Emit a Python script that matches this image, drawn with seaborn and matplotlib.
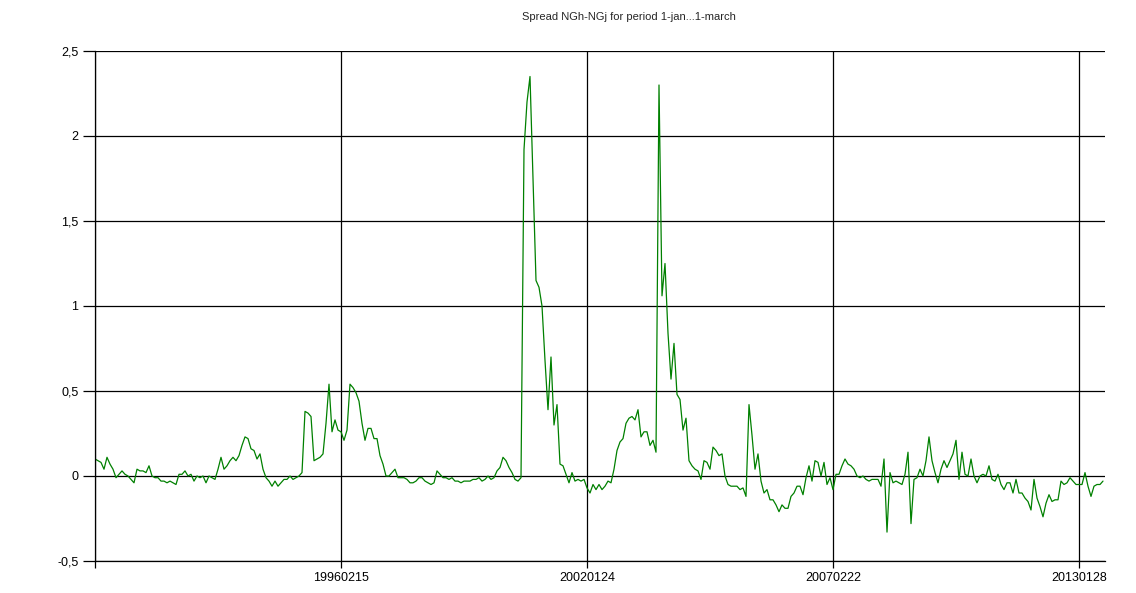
import numpy as np
import pandas as pd
import matplotlib
matplotlib.use("Agg")
import matplotlib.pyplot as plt
import seaborn as sns

# Style
sns.set_style("white")
plt.rcParams['font.family'] = ['Liberation Sans', 'DejaVu Sans']

# Data: spread values, one per trading day (Jan..Mar of each year)
spread = [
    0.10, 0.09, 0.08, 0.04, 0.11, 0.07, 0.04, -0.01, 0.01, 0.03,
    0.01, 0.00, -0.02, -0.04, 0.04, 0.03, 0.03, 0.02, 0.06, 0.00,
    -0.01, -0.01, -0.03, -0.03, -0.04, -0.03, -0.04, -0.05, 0.01, 0.01,
    0.03, 0.00, 0.01, -0.03, 0.00, -0.01, 0.00, -0.04, 0.00, -0.01,
    -0.02, 0.04, 0.11, 0.04, 0.06, 0.09, 0.11, 0.09, 0.12, 0.18,
    0.23, 0.22, 0.16, 0.15, 0.10, 0.13, 0.04, -0.01, -0.03, -0.06,
    -0.03, -0.06, -0.04, -0.02, -0.02, 0.00, -0.02, -0.01, 0.00, 0.02,
    0.38, 0.37, 0.35, 0.09, 0.10, 0.11, 0.13, 0.31, 0.54, 0.26,
    0.33, 0.27, 0.26, 0.21, 0.27, 0.54, 0.52, 0.49, 0.44, 0.31,
    0.21, 0.28, 0.28, 0.22, 0.22, 0.12, 0.07, 0.00, 0.00, 0.02,
    0.04, -0.01, -0.01, -0.01, -0.02, -0.04, -0.04, -0.03, -0.01, -0.01,
    -0.03, -0.04, -0.05, -0.04, 0.03, 0.01, -0.01, -0.01, -0.02, -0.01,
    -0.03, -0.03, -0.04, -0.03, -0.03, -0.03, -0.02, -0.02, -0.01, -0.03,
    -0.02, 0.00, -0.02, -0.01, 0.03, 0.05, 0.11, 0.09, 0.05, 0.02,
    -0.02, -0.03, -0.01, 1.92, 2.20, 2.35, 1.76, 1.15, 1.11, 1.00,
    0.68, 0.39, 0.70, 0.30, 0.42, 0.07, 0.06, 0.01, -0.04, 0.02,
    -0.03, -0.02, -0.03, -0.02, -0.07, -0.10, -0.05, -0.08, -0.05, -0.08,
    -0.06, -0.03, -0.04, 0.04, 0.15, 0.20, 0.22, 0.31, 0.34, 0.35,
    0.33, 0.39, 0.23, 0.26, 0.26, 0.18, 0.21, 0.14, 2.30, 1.06,
    1.25, 0.84, 0.57, 0.78, 0.48, 0.45, 0.27, 0.34, 0.09, 0.06,
    0.04, 0.03, -0.02, 0.09, 0.08, 0.04, 0.17, 0.15, 0.12, 0.13,
    0.00, -0.05, -0.06, -0.06, -0.06, -0.08, -0.07, -0.12, 0.42, 0.24,
    0.04, 0.13, -0.03, -0.10, -0.08, -0.14, -0.14, -0.17, -0.21, -0.17,
    -0.19, -0.19, -0.12, -0.10, -0.06, -0.06, -0.11, -0.01, 0.06, -0.03,
    0.09, 0.08, 0.00, 0.08, -0.05, -0.01, -0.08, 0.01, 0.01, 0.06,
    0.10, 0.07, 0.06, 0.04, 0.00, -0.01, 0.00, -0.02, -0.03, -0.02,
    -0.02, -0.02, -0.06, 0.10, -0.33, 0.02, -0.04, -0.03, -0.04, -0.05,
    0.01, 0.14, -0.28, -0.02, -0.01, 0.04, 0.00, 0.09, 0.23, 0.09,
    0.02, -0.04, 0.04, 0.09, 0.05, 0.09, 0.13, 0.21, -0.02, 0.14,
    0.01, 0.00, 0.10, 0.00, -0.04, 0.00, 0.01, 0.00, 0.06, -0.02,
    -0.03, 0.01, -0.05, -0.08, -0.04, -0.04, -0.10, -0.02, -0.10, -0.10,
    -0.13, -0.15, -0.20, -0.02, -0.13, -0.18, -0.24, -0.16, -0.11, -0.15,
    -0.14, -0.14, -0.03, -0.05, -0.04, -0.01, -0.03, -0.05, -0.05, -0.05,
    0.02, -0.06, -0.12, -0.06, -0.05, -0.05, -0.03,
]
date_labels = ['', '19960215', '20020124', '20070222', '20130128']
date_positions = [0, 82, 164, 246, 328]
y_ticks = [-0.5, 0, 0.5, 1, 1.5, 2, 2.5]
y_tick_labels = ['-0,5', '0', '0,5', '1', '1,5', '2', '2,5']

df = pd.DataFrame({'idx': np.arange(len(spread)), 'spread': spread})

fig = plt.figure(figsize=(11.36, 5.93), dpi=100)
ax = fig.add_axes([95 / 1136, 1 - 561 / 593, 1010 / 1136, 510 / 593])

sns.lineplot(data=df, x='idx', y='spread', ax=ax, color='#008000', linewidth=0.9)

ax.set_xlim(0, 1010 / 3)
ax.set_ylim(-0.5, 2.5)
ax.set_xticks(date_positions)
ax.set_xticklabels(date_labels, fontsize=9)
ax.set_yticks(y_ticks)
ax.set_yticklabels(y_tick_labels, fontsize=9)
ax.set_xlabel('')
ax.set_ylabel('')

ax.grid(True, color='black', linewidth=0.9)
ax.set_axisbelow(True)
for side in ['top', 'right']:
    ax.spines[side].set_visible(False)
for side in ['left', 'bottom']:
    ax.spines[side].set_color('black')
    ax.spines[side].set_linewidth(0.9)
ax.tick_params(axis='y', left=True, length=9, width=0.9, pad=3, colors='black')
ax.tick_params(axis='x', bottom=True, length=5, width=0.9, pad=3, colors='black')

fig.text(629 / 1136, 1 - 17 / 593, 'Spread NGh-NGj for period 1-jan...1-march',
         ha='center', va='center', fontsize=8)

plt.savefig('out.png', dpi=100)
plt.close()
